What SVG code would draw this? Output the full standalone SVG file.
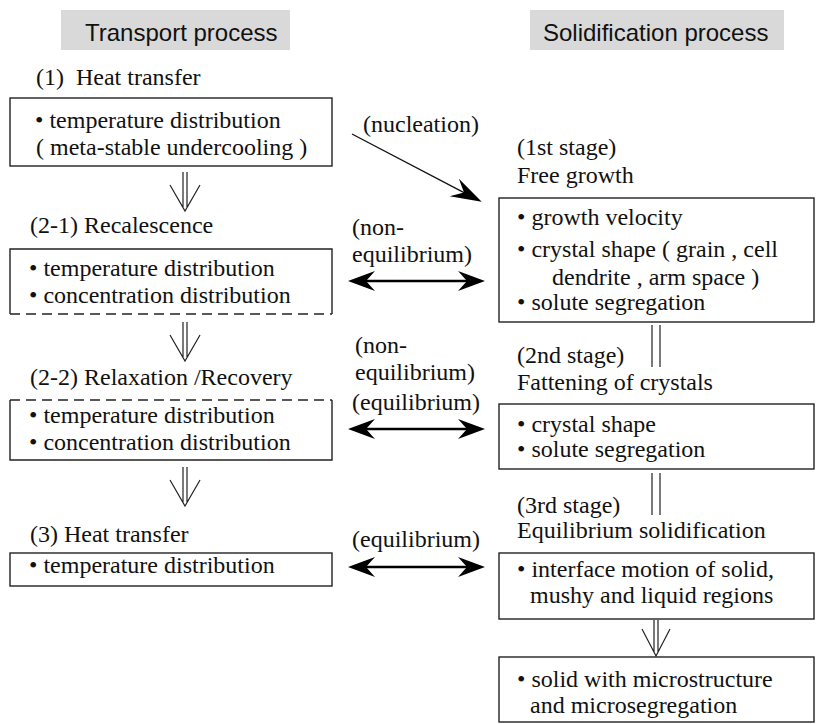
<svg xmlns="http://www.w3.org/2000/svg" width="817" height="724" viewBox="0 0 817 724">
<style>
.t{font-family:"Liberation Serif","Times New Roman",serif;font-size:24px;fill:#111}
.h{font-family:"Liberation Sans",Arial,sans-serif;font-size:24px;fill:#111}
.box{fill:#fff;stroke:#222;stroke-width:1.4}
.edge{fill:none;stroke:#222;stroke-width:1.4}
.dash{fill:none;stroke:#222;stroke-width:1.4;stroke-dasharray:10 6}
.hdr{fill:#d9d9d9}
.thick{fill:none;stroke:#000;stroke-width:2.6}
.thin{fill:none;stroke:#111;stroke-width:1.3}
.hollow{fill:none;stroke:#222;stroke-width:1.2}
</style>
<defs>
<marker id="big" markerUnits="userSpaceOnUse" markerWidth="32" markerHeight="26" viewBox="-28 -13 32 26" refX="-18" refY="0" orient="auto-start-reverse">
<path d="M0,0 L-27,-10 L-18,0 L-27,10 Z" fill="#000"/>
</marker>
<marker id="nuc" markerUnits="userSpaceOnUse" markerWidth="34" markerHeight="24" viewBox="-32 -12 34 24" refX="-20" refY="0" orient="auto">
<path d="M0,0 L-31,-10 L-20,0 L-31,10 Z" fill="#000"/>
</marker>
</defs>

<g id="hdr-transport">
<rect class="hdr" x="61" y="10" width="229" height="40"/>
<text class="h" x="85" y="41">Transport process</text>
</g>
<g id="hdr-solidification">
<rect class="hdr" x="530" y="10" width="254" height="40"/>
<text class="h" x="543" y="41">Solidification process</text>
</g>

<g id="n1">
<text class="t" x="36" y="85" xml:space="preserve">(1)  Heat transfer</text>
<rect class="box" x="10" y="98" width="322" height="68"/>
<text class="t" x="35" y="128">• temperature distribution</text>
<text class="t" x="36" y="155">( meta-stable undercooling )</text>
</g>

<g id="n2">
<text class="t" x="30" y="233">(2-1) Recalescence</text>
<path class="edge" d="M10,314 V249 H332 V314"/>
<path class="dash" d="M10,314 H332"/>
<text class="t" x="29" y="276">• temperature distribution</text>
<text class="t" x="29" y="303">• concentration distribution</text>
</g>

<g id="n3">
<text class="t" x="30" y="385">(2-2) Relaxation /Recovery</text>
<path class="edge" d="M10,400 V460 H332 V400"/>
<path class="dash" d="M10,400 H332"/>
<text class="t" x="29" y="423">• temperature distribution</text>
<text class="t" x="29" y="450">• concentration distribution</text>
</g>

<g id="n4">
<text class="t" x="30" y="542">(3) Heat transfer</text>
<rect class="box" x="10" y="553" width="322" height="33"/>
<text class="t" x="29" y="573">• temperature distribution</text>
</g>

<g id="n5">
<text class="t" x="517" y="155">(1st stage)</text>
<text class="t" x="517" y="183">Free growth</text>
<rect class="box" x="499" y="198" width="315" height="124"/>
<text class="t" x="517" y="225">• growth velocity</text>
<text class="t" x="517" y="257">• crystal shape ( grain , cell</text>
<text class="t" x="552" y="285">dendrite , arm space )</text>
<text class="t" x="517" y="310">• solute segregation</text>
</g>

<g id="n6">
<text class="t" x="517" y="363">(2nd stage)</text>
<text class="t" x="517" y="390">Fattening of crystals</text>
<rect class="box" x="499" y="404" width="315" height="65"/>
<text class="t" x="517" y="432">• crystal shape</text>
<text class="t" x="517" y="457">• solute segregation</text>
</g>

<g id="n7">
<text class="t" x="517" y="513">(3rd stage)</text>
<text class="t" x="517" y="538">Equilibrium solidification</text>
<rect class="box" x="499" y="553" width="315" height="66"/>
<text class="t" x="517" y="577">• interface motion of solid,</text>
<text class="t" x="530" y="603">mushy and liquid regions</text>
</g>

<g id="n8">
<rect class="box" x="499" y="657" width="315" height="65"/>
<text class="t" x="517" y="687">• solid with microstructure</text>
<text class="t" x="530" y="713">and microsegregation</text>
</g>

<g id="connectors">
<g id="e-nucleation">
<line class="thin" x1="352" y1="134" x2="464" y2="192.6" marker-end="url(#nuc)"/>
<text class="t" x="363" y="132">(nucleation)</text>
</g>
<g id="e-noneq1">
<text class="t" x="352" y="235">(non-</text>
<text class="t" x="352" y="262">equilibrium)</text>
<line class="thick" x1="366" y1="281" x2="467" y2="281" marker-start="url(#big)" marker-end="url(#big)"/>
</g>
<g id="e-noneq2">
<text class="t" x="355" y="353">(non-</text>
<text class="t" x="355" y="380">equilibrium)</text>
<text class="t" x="352" y="410">(equilibrium)</text>
<line class="thick" x1="366" y1="429" x2="467" y2="429" marker-start="url(#big)" marker-end="url(#big)"/>
</g>
<g id="e-eq">
<text class="t" x="352" y="547">(equilibrium)</text>
<line class="thick" x1="366" y1="567" x2="467" y2="567" marker-start="url(#big)" marker-end="url(#big)"/>
</g>
<g id="d1">
<path class="hollow" d="M183,172 V207 M187,172 V207 M170,185 L185,211 L200,185"/>
</g>
<g id="d2">
<path class="hollow" d="M183,322 V357 M187,322 V357 M170,335 L185,361 L200,335"/>
</g>
<g id="d3">
<path class="hollow" d="M183,467 V502 M187,467 V502 M170,480 L185,506 L200,480"/>
</g>
<g id="d4">
<path class="hollow" d="M654,620 V652 M658,620 V652 M642,629 L656,656 L670,629"/>
</g>
<g id="s1">
<path class="hollow" d="M652,325 V367 M660,325 V367"/>
</g>
<g id="s2">
<path class="hollow" d="M652,473 V515 M660,473 V515"/>
</g>
</g>
</svg>
